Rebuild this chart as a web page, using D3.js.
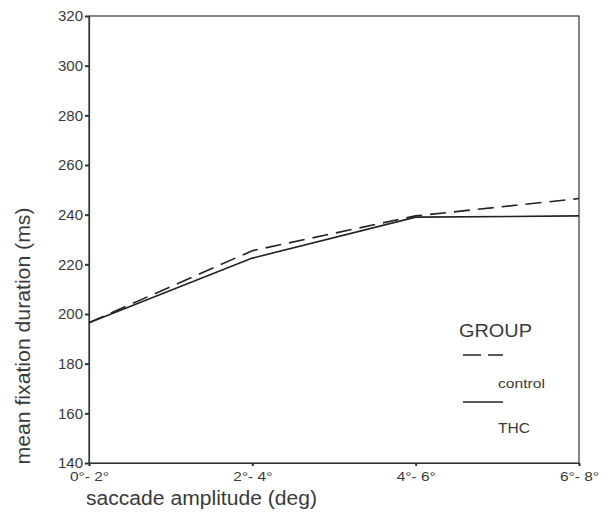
<!DOCTYPE html>
<html>
<head>
<meta charset="utf-8">
<script src="https://cdn.jsdelivr.net/npm/d3@7"></script>
<style>
  body { margin: 0; background: #fff; }
  text { font-family: "Liberation Sans", Arial, sans-serif; fill: #3a3a3a; }
</style>
</head>
<body>
<div id="chart"></div>
<script>
const categories = ["0°- 2°", "2°- 4°", "4°- 6°", "6°- 8°"];
const control = [196.5, 225.5, 239.5, 246.5];
const thc = [196.5, 222.5, 239, 239.5];
const yTicks = [140, 160, 180, 200, 220, 240, 260, 280, 300, 320];

const width = 608, height = 520;
const margin = { left: 89, right: 29, top: 16, bottom: 57 };

const svg = d3.select("#chart").append("svg")
  .attr("width", width)
  .attr("height", height);

const x = d3.scalePoint()
  .domain(categories)
  .range([margin.left, width - margin.right]);

const y = d3.scaleLinear()
  .domain([140, 320])
  .range([height - margin.bottom, margin.top]);

// frame
svg.append("rect")
  .attr("x", margin.left)
  .attr("y", margin.top)
  .attr("width", width - margin.right - margin.left)
  .attr("height", height - margin.bottom - margin.top)
  .attr("fill", "none")
  .attr("stroke", "#333")
  .attr("stroke-width", 1.2);

// y axis
const yAxis = svg.append("g")
  .attr("transform", `translate(${margin.left},0)`)
  .call(d3.axisLeft(y).tickValues(yTicks).tickSize(4).tickPadding(2));
yAxis.select(".domain").attr("stroke", "#333").attr("stroke-width", 1.2);
yAxis.selectAll(".tick line").attr("stroke", "#333").attr("stroke-width", 2);
yAxis.selectAll(".tick text")
  .attr("font-size", 15)
  .style("font-family", "Liberation Sans, Arial, sans-serif")
  .attr("fill", "#484848");

// x axis
const xAxis = svg.append("g")
  .attr("transform", `translate(0,${height - margin.bottom})`)
  .call(d3.axisBottom(x).tickSize(3).tickPadding(6));
xAxis.select(".domain").attr("stroke", "#333").attr("stroke-width", 1.2);
xAxis.selectAll(".tick line").attr("stroke", "#333").attr("stroke-width", 2);
xAxis.selectAll(".tick text")
  .attr("font-size", 12.5)
  .attr("textLength", 39)
  .attr("lengthAdjust", "spacingAndGlyphs")
  .style("font-family", "Liberation Sans, Arial, sans-serif")
  .attr("fill", "#555");

// lines
const line = d3.line()
  .x((d, i) => x(categories[i]))
  .y(d => y(d));

svg.append("path")
  .datum(control)
  .attr("d", line)
  .attr("fill", "none")
  .attr("stroke", "#222")
  .attr("stroke-width", 1.6)
  .attr("stroke-dasharray", "16,8");

svg.append("path")
  .datum(thc)
  .attr("d", line)
  .attr("fill", "none")
  .attr("stroke", "#222")
  .attr("stroke-width", 1.6);

// axis titles
svg.append("text")
  .attr("transform", "translate(30,336) rotate(-90) scale(1,1.1)")
  .attr("text-anchor", "middle")
  .attr("font-size", 18.5)
  .attr("textLength", 257)
  .attr("lengthAdjust", "spacingAndGlyphs")
  .text("mean fixation duration (ms)");

svg.append("text")
  .attr("x", 86)
  .attr("y", 505)
  .attr("font-size", 20)
  .attr("textLength", 231)
  .attr("lengthAdjust", "spacingAndGlyphs")
  .text("saccade amplitude (deg)");

// legend
const legend = svg.append("g");
legend.append("text")
  .attr("x", 459)
  .attr("y", 337)
  .attr("font-size", 18)
  .attr("textLength", 73)
  .attr("lengthAdjust", "spacingAndGlyphs")
  .text("GROUP");
legend.append("line")
  .attr("x1", 463).attr("x2", 503)
  .attr("y1", 355).attr("y2", 355)
  .attr("stroke", "#222").attr("stroke-width", 1.6)
  .attr("stroke-dasharray", "18,7");
legend.append("text")
  .attr("x", 498)
  .attr("y", 388)
  .attr("font-size", 13.5)
  .attr("textLength", 47)
  .attr("lengthAdjust", "spacingAndGlyphs")
  .text("control");
legend.append("line")
  .attr("x1", 463).attr("x2", 503)
  .attr("y1", 402).attr("y2", 402)
  .attr("stroke", "#222").attr("stroke-width", 1.6);
legend.append("text")
  .attr("x", 498)
  .attr("y", 433)
  .attr("font-size", 14)
  .attr("textLength", 32)
  .attr("lengthAdjust", "spacingAndGlyphs")
  .text("THC");
</script>
</body>
</html>
